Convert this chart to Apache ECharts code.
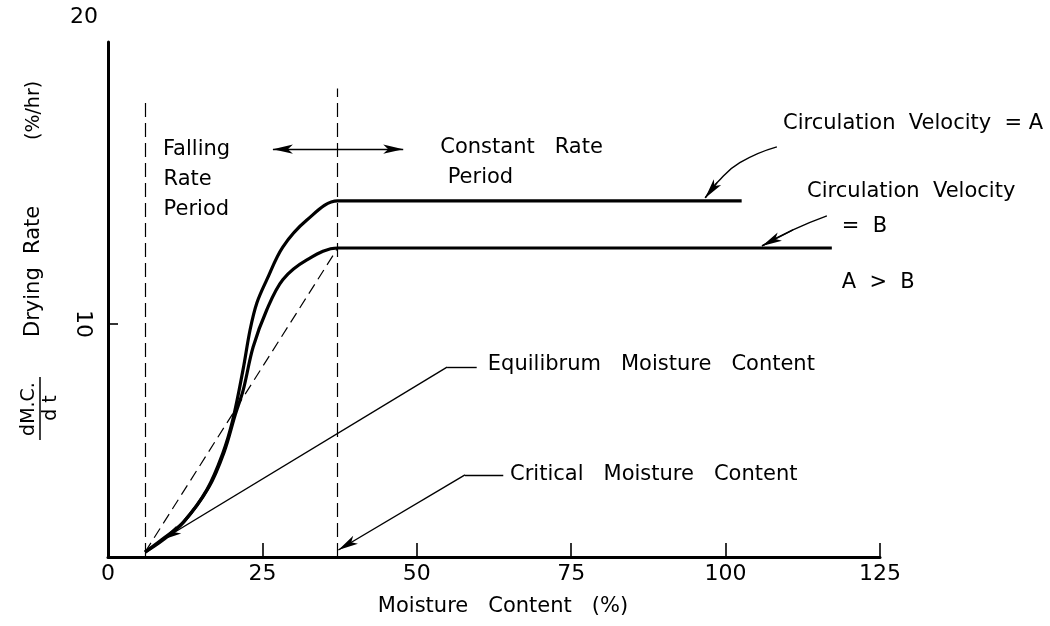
<!DOCTYPE html>
<html>
<head>
<meta charset="utf-8">
<script src="https://cdn.jsdelivr.net/npm/echarts@6/dist/echarts.min.js"></script>
<style>
  html, body { margin: 0; padding: 0; background: #fff; }
  #chart { width: 1050px; height: 626px; }
</style>
</head>
<body>
<div id="chart"></div>
<script>
// curve values (moisture %, drying rate %/hr)
const moistureA = [6.0, 8.9, 12.1, 16.0, 18.6, 20.2, 21.86, 23.0, 24.1, 25.7, 28.3, 32.2, 37.2, 45.0, 102.6]
const rateA = [0.21, 0.73, 1.46, 2.88, 4.46, 5.88, 8.03, 9.74, 10.9, 11.89, 13.3, 14.46, 15.28, 15.28, 15.28]
const moistureB = [6.0, 9.0, 12.3, 16.3, 18.8, 20.6, 21.9, 23.5, 25.7, 28.3, 32.2, 37.2, 45.0, 117.2]
const rateB = [0.21, 0.8, 1.52, 2.98, 4.5, 6.1, 7.17, 9.01, 10.6, 11.9, 12.75, 13.26, 13.26, 13.26]

// dashed guides: equilibrium / critical moisture content
const guideX = [6.0, 37.2]
const guideTop = [19.5, 20.1]
const chord = [[6.0, 0.21], [37.2, 13.26]]

// arrows and leader lines
const periodArrow = [[26.7, 17.5], [47.8, 17.5]]
const equilibLeader = [[59.7, 8.15], [54.9, 8.15], [8.7, 0.73]]
const criticalLeader = [[64.0, 3.52], [57.8, 3.52], [37.3, 0.3]]
const velocityALeader = [[108.3, 17.6], [102.3, 16.92], [98.6, 16.06], [96.7, 15.41]]
const velocityBLeader = [[116.4, 14.64], [110.9, 14.04], [105.9, 13.35]]

// annotation texts
const noteText = ['Falling', 'Rate', 'Period', 'Constant   Rate', 'Period',
  'Equilibrum   Moisture   Content', 'Critical   Moisture   Content',
  'Circulation  Velocity  = A', 'Circulation  Velocity', '=  B', 'A  >  B']
const noteX = [8.9, 9.0, 9.0, 53.8, 55.0, 61.5, 65.1, 109.3, 113.2, 118.8, 118.8]
const noteY = [17.47, 16.18, 14.9, 17.55, 16.27, 8.24, 3.52, 18.6, 15.67, 14.16, 11.76]

const xTicks = [0, 25, 50, 75, 100, 125]
const yTicks = [10]

const FONT = 'DejaVu Sans'
const INK = '#000'

const zip = (xs, ys) => xs.map((x, i) => [x, ys[i]])
const seg = (a, b, opts) => [
  { coord: a, symbol: (opts && opts.start) || 'none' },
  { coord: b, symbol: (opts && opts.end) || 'none', lineStyle: (opts && opts.style) || {} }
]
const last = (arr, k) => arr[arr.length - k]

const chart = echarts.init(document.getElementById('chart'))

chart.setOption({
  animation: false,
  backgroundColor: '#fff',
  textStyle: { fontFamily: FONT, color: INK },
  grid: { left: 108, right: 170, top: 42, bottom: 69, containLabel: false, outerBoundsMode: 'none' },
  xAxis: {
    type: 'value',
    min: 0,
    max: 125,
    interval: 25,
    name: 'Moisture   Content   (%)',
    nameLocation: 'middle',
    nameGap: 39,
    nameTextStyle: { fontSize: 21, color: INK, fontFamily: FONT, padding: [0, 0, 0, 18] },
    axisLine: { lineStyle: { color: INK, width: 3 } },
    axisTick: { inside: true, length: 14, lineStyle: { color: INK, width: 1.6 }, customValues: xTicks },
    axisLabel: { fontSize: 22, color: INK, margin: 6, fontFamily: FONT, customValues: xTicks },
    splitLine: { show: false }
  },
  yAxis: {
    type: 'value',
    min: 0,
    max: 22.1,
    interval: 10,
    name: '20',
    nameLocation: 'end',
    nameGap: 14,
    nameTextStyle: { fontSize: 22, color: INK, fontFamily: FONT, align: 'right', padding: [0, 10, 0, 0] },
    axisLine: { lineStyle: { color: INK, width: 3 } },
    axisTick: { inside: true, length: 10, lineStyle: { color: INK, width: 1.6 }, customValues: yTicks },
    axisLabel: { fontSize: 22, color: INK, rotate: -90, margin: 14, fontFamily: FONT, customValues: yTicks },
    splitLine: { show: false }
  },
  series: [
    {
      name: 'Circulation Velocity = A',
      type: 'line',
      data: zip(moistureA, rateA),
      smooth: 0.35,
      showSymbol: false,
      lineStyle: { color: INK, width: 3.2 },
      z: 3,
      markLine: {
        silent: true,
        symbol: 'none',
        label: { show: false },
        lineStyle: { color: INK, width: 1.2, type: [14, 6] },
        data: [
          seg([guideX[0], 0], [guideX[0], guideTop[0]]),
          seg([guideX[1], 0], [guideX[1], guideTop[1]]),
          seg(chord[0], chord[1], { style: { type: [11, 6] } })
        ]
      }
    },
    {
      name: 'Circulation Velocity = B',
      type: 'line',
      data: zip(moistureB, rateB),
      smooth: 0.35,
      showSymbol: false,
      lineStyle: { color: INK, width: 3.2 },
      z: 3,
      markLine: {
        silent: true,
        symbol: 'none',
        symbolSize: [7, 20],
        label: { show: false },
        lineStyle: { color: INK, width: 1.4, type: 'solid' },
        data: [
          seg(periodArrow[0], periodArrow[1], { start: 'arrow', end: 'arrow' }),
          seg(equilibLeader[0], equilibLeader[1]),
          seg(equilibLeader[1], equilibLeader[2], { end: 'arrow' }),
          seg(criticalLeader[0], criticalLeader[1]),
          seg(criticalLeader[1], criticalLeader[2], { end: 'arrow' }),
          seg(last(velocityALeader, 2), last(velocityALeader, 1), { end: 'arrow' }),
          seg(last(velocityBLeader, 2), last(velocityBLeader, 1), { end: 'arrow' })
        ]
      }
    },
    {
      name: 'leader A',
      type: 'line',
      data: velocityALeader,
      smooth: 0.5,
      showSymbol: false,
      silent: true,
      lineStyle: { color: INK, width: 1.4 }
    },
    {
      name: 'leader B',
      type: 'line',
      data: velocityBLeader,
      smooth: 0.5,
      showSymbol: false,
      silent: true,
      lineStyle: { color: INK, width: 1.4 }
    },
    {
      name: 'notes',
      type: 'scatter',
      data: noteText.map((t, i) => ({ name: t, value: [noteX[i], noteY[i]] })),
      symbolSize: 0,
      itemStyle: { color: INK, opacity: 1 },
      silent: true,
      clip: false,
      label: {
        show: true,
        position: 'right',
        distance: 0,
        formatter: (p) => p.name,
        fontSize: 21,
        color: INK,
        opacity: 1,
        fontFamily: FONT
      }
    }
  ],
  graphic: [
    {
      type: 'group',
      x: 34,
      y: 337,
      rotation: Math.PI / 2,
      silent: true,
      children: [
        {
          type: 'text',
          x: 0,
          y: 0,
          style: { text: 'Drying  Rate', fontSize: 21, fontFamily: FONT, fill: INK, textAlign: 'left', textVerticalAlign: 'middle' }
        },
        {
          type: 'text',
          x: 197,
          y: 0,
          style: { text: '(%/hr)', fontSize: 19, fontFamily: FONT, fill: INK, textAlign: 'left', textVerticalAlign: 'middle' }
        },
        {
          type: 'text',
          x: -72,
          y: -5,
          style: { text: 'dM.C.', fontSize: 19, fontFamily: FONT, fill: INK, textAlign: 'center', textVerticalAlign: 'middle' }
        },
        {
          type: 'line',
          shape: { x1: -103, y1: 6, x2: -40, y2: 6 },
          style: { stroke: INK, lineWidth: 1.5 }
        },
        {
          type: 'text',
          x: -71,
          y: 17,
          style: { text: 'd t', fontSize: 19, fontFamily: FONT, fill: INK, textAlign: 'center', textVerticalAlign: 'middle' }
        }
      ]
    }
  ]
})
</script>
</body>
</html>
